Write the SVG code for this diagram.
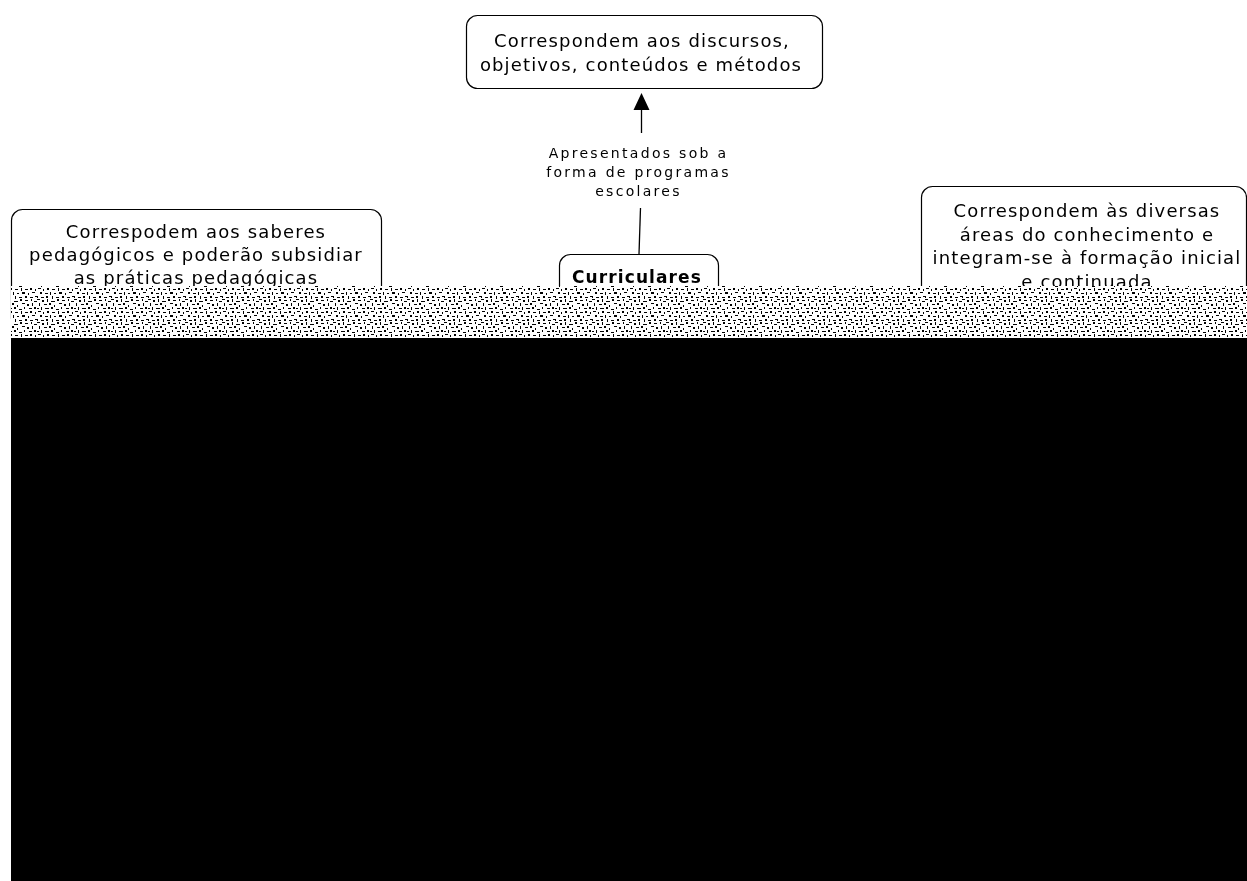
<svg xmlns="http://www.w3.org/2000/svg" width="1247" height="881" viewBox="0 0 1247 881">
<style>
.box{fill:#fff;stroke:#000;stroke-width:1.2}
.t{font-family:"DejaVu Sans",Verdana,sans-serif;font-size:18px;letter-spacing:1.15px;fill:#000;text-anchor:middle}
.b{font-weight:bold;font-size:17px;letter-spacing:1.1px}
.lbl{font-family:"DejaVu Sans",Verdana,sans-serif;font-size:14px;letter-spacing:2.3px;fill:#000;text-anchor:middle}
.c{stroke:#000;stroke-width:1.3;fill:none}
</style>
<defs>
<marker id="ah" markerWidth="18" markerHeight="18" refX="0" refY="8" orient="auto" markerUnits="userSpaceOnUse" viewBox="0 0 18 16">
<path d="M0,0 L17,8 L0,16 Z" fill="#000"/>
</marker>
<pattern id="noise" width="37" height="23" patternUnits="userSpaceOnUse">
<rect width="37" height="23" fill="#fff"/>
<g fill="#000">
<rect x="0" y="0" width="3" height="1"/><rect x="5" y="1" width="2" height="2"/><rect x="10" y="0" width="1" height="3"/><rect x="14" y="2" width="4" height="1"/><rect x="20" y="0" width="2" height="2"/><rect x="25" y="1" width="3" height="1"/><rect x="31" y="0" width="1" height="2"/><rect x="34" y="2" width="3" height="1"/>
<rect x="2" y="4" width="1" height="3"/><rect x="7" y="5" width="3" height="1"/><rect x="12" y="4" width="2" height="2"/><rect x="17" y="6" width="1" height="2"/><rect x="22" y="4" width="3" height="1"/><rect x="27" y="5" width="2" height="2"/><rect x="32" y="4" width="1" height="3"/>
<rect x="0" y="9" width="2" height="1"/><rect x="4" y="8" width="1" height="3"/><rect x="8" y="9" width="4" height="1"/><rect x="14" y="8" width="2" height="2"/><rect x="19" y="10" width="3" height="1"/><rect x="24" y="8" width="1" height="2"/><rect x="29" y="9" width="3" height="1"/><rect x="34" y="8" width="2" height="2"/>
<rect x="1" y="12" width="3" height="1"/><rect x="6" y="13" width="1" height="2"/><rect x="10" y="12" width="2" height="2"/><rect x="15" y="13" width="3" height="1"/><rect x="21" y="12" width="1" height="3"/><rect x="25" y="13" width="3" height="1"/><rect x="30" y="12" width="2" height="2"/><rect x="35" y="13" width="1" height="2"/>
<rect x="3" y="16" width="2" height="2"/><rect x="8" y="17" width="3" height="1"/><rect x="13" y="16" width="1" height="3"/><rect x="17" y="17" width="2" height="1"/><rect x="22" y="16" width="3" height="2"/><rect x="28" y="17" width="1" height="2"/><rect x="32" y="16" width="3" height="1"/>
<rect x="0" y="20" width="1" height="2"/><rect x="4" y="21" width="3" height="1"/><rect x="9" y="20" width="2" height="2"/><rect x="15" y="20" width="1" height="3"/><rect x="19" y="21" width="3" height="1"/><rect x="25" y="20" width="2" height="2"/><rect x="30" y="21" width="3" height="1"/><rect x="35" y="20" width="2" height="1"/>
</g>
</pattern>
</defs>
<rect width="1247" height="881" fill="#fff"/>

<g id="connectors">
<line class="c" x1="641.5" y1="133" x2="641.5" y2="110" marker-end="url(#ah)"/>
<line class="c" x1="640.5" y1="208" x2="639" y2="254"/>
</g>

<g id="node-programas-label">
<text class="lbl" x="638.5" y="158">Apresentados sob a</text>
<text class="lbl" x="638.5" y="177">forma de programas</text>
<text class="lbl" x="638.5" y="196">escolares</text>
</g>

<g id="node-discursos">
<rect class="box" x="466.5" y="15.5" width="356" height="73" rx="11"/>
<text class="t" x="642" y="47">Correspondem aos discursos,</text>
<text class="t" x="641" y="71">objetivos, conteúdos e métodos</text>
</g>

<g id="node-saberes">
<rect class="box" x="11.5" y="209.5" width="370" height="120" rx="11"/>
<text class="t" x="196" y="238">Correspodem aos saberes</text>
<text class="t" x="196" y="261">pedagógicos e poderão subsidiar</text>
<text class="t" x="196" y="284">as práticas pedagógicas</text>
</g>

<g id="node-curriculares">
<rect class="box" x="559.5" y="254.5" width="159" height="70" rx="11"/>
<text class="t b" x="637" y="283">Curriculares</text>
</g>

<g id="node-areas">
<rect class="box" x="921.5" y="186.5" width="325" height="140" rx="11"/>
<text class="t" x="1087" y="217">Correspondem às diversas</text>
<text class="t" x="1087" y="241">áreas do conhecimento e</text>
<text class="t" x="1087" y="264">integram-se à formação inicial</text>
<text class="t" x="1087" y="288">e continuada</text>
</g>

<g id="corruption">
<rect x="11" y="286" width="1236" height="52" fill="url(#noise)"/>
<rect x="11" y="286" width="1236" height="52" fill="url(#noise)" transform="translate(0,0)" opacity="0.5" style="mix-blend-mode:multiply"/>
<rect x="11" y="338" width="1236" height="543" fill="#000"/>
</g>
</svg>
